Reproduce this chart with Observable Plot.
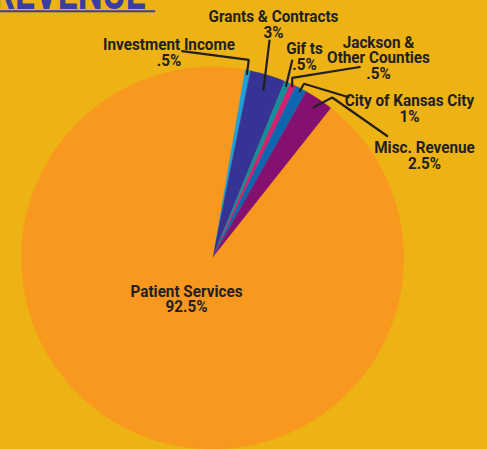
<!DOCTYPE html>
<html><head><meta charset="utf-8">
<script src="https://cdn.jsdelivr.net/npm/d3@7"></script>
<script src="https://cdn.jsdelivr.net/npm/@observablehq/plot@0.6"></script>
<style>
html,body{margin:0;padding:0;background:#EDB213;overflow:hidden;}
#chart svg{display:block;}
</style></head><body><div id="chart"></div>
<script>
// ---- data ----
const keys = ["investment","grants","gifts","jackson","city","misc","patient"];
const categories = ["Investment Income","Grants & Contracts","Gif ts","Jackson &\nOther Counties","City of Kansas City","Misc. Revenue","Patient Services"];
const values = [0.5, 3, 0.5, 0.5, 1, 2.5, 92.5];
const percentLabels = [".5%","3%",".5%",".5%","1%","2.5%","92.5%"];
const colors = ["#1BA0DB","#353394","#11909A","#D51F70","#0C66B0","#841170","#F8981E"];
const title = "REVENUE";

// ---- layout ----
const W = 487, H = 449, CX = 212, CY = 257.5, R = 191, START_DEG = 9.7;
const labelX = [168.5, 273, 304, 378, 409, 424, 186];
const labelY = [65, 37, 69, 78, 121, 168, 311.5];       // baseline of last line
const leaderDepth = [0.98, 0.92, 0.98, 0.99, 0.985, 0.95, null];
const leaderElbows = [
  [[248.3, 59.3], [181.7, 50.7]],
  [[269, 40]],
  [[291.7, 60]],
  [[291.7, 77.3], [359.3, 66.5]],
  [[303.5, 83.3], [348.3, 96.8]],
  [[331.7, 97], [386.7, 135.5]],
  null
];

const toRad = d => d * Math.PI / 180;
const polar = (a, r) => [CX + r * Math.sin(a), CY - r * Math.cos(a)];

const arcs = d3.pie().sort(null).value(d => d)
  .startAngle(toRad(START_DEG)).endAngle(toRad(START_DEG) + 2 * Math.PI)(values);

// slice polygons
const slicePts = [];
arcs.forEach((a, i) => {
  const n = Math.max(2, Math.ceil((a.endAngle - a.startAngle) / toRad(0.4)));
  slicePts.push({key: keys[i], x: CX, y: CY});
  for (let k = 0; k <= n; k++) {
    const t = a.startAngle + (a.endAngle - a.startAngle) * k / n;
    const [x, y] = polar(t, R);
    slicePts.push({key: keys[i], x, y});
  }
});

// leader lines
const leaderPts = [];
arcs.forEach((a, i) => {
  if (!leaderElbows[i]) return;
  const mid = (a.startAngle + a.endAngle) / 2;
  const [x0, y0] = polar(mid, leaderDepth[i] * R);
  leaderPts.push({key: keys[i], x: x0, y: y0});
  leaderElbows[i].forEach(([x, y]) => leaderPts.push({key: keys[i], x, y}));
});

const labels = keys.map((k, i) => ({key: k, x: labelX[i], y: labelY[i], text: categories[i] + "\n" + percentLabels[i]}));

const plot = Plot.plot({
  width: W, height: H,
  margin: 0,
  x: {domain: [0, W], range: [0, W], axis: null},
  y: {domain: [0, H], range: [0, H], axis: null},
  color: {domain: keys, range: colors},
  style: {background: "transparent", overflow: "visible"},
  marks: [
    Plot.line(slicePts, {x: "x", y: "y", z: "key", fill: "key", stroke: "key", strokeWidth: 0.4, curve: "linear-closed"}),
    Plot.line(leaderPts, {x: "x", y: "y", z: "key", stroke: "#231F20", strokeWidth: 2.2, strokeLinejoin: "miter"}),
    Plot.text(labels, {x: "x", y: "y", text: "text", textAnchor: "middle", lineAnchor: "bottom",
      fontSize: 16.5, fontFamily: "Roboto, 'Liberation Sans', sans-serif", fontWeight: 700,
      fill: "#231F20", lineHeight: 0.93}),
    Plot.text([title], {x: () => -8, y: () => 8, text: d => d, textAnchor: "start", lineAnchor: "bottom",
      fontSize: 48, fontFamily: "Roboto, 'Liberation Sans', sans-serif", fontWeight: 700,
      fill: "#3B3EA0"}),
    Plot.line([{x: 0, y: 10.8}, {x: 154, y: 10.8}], {x: "x", y: "y", stroke: "#3B3EA0", strokeWidth: 2})
  ]
});
document.getElementById("chart").appendChild(plot);

// condense text horizontally to mimic the condensed typeface
const textGroups = plot.querySelectorAll('g[aria-label="text"]');
function condense(g, targetWidth, refIndex) {
  if (!g) return;
  const texts = g.querySelectorAll("text");
  const ref = texts[refIndex];
  const w = ref.getBBox().width;
  const s = targetWidth / w;
  texts.forEach(t => {
    const tr = t.getAttribute("transform");
    if (tr) {
      t.setAttribute("transform", tr + ` scale(${s},1)`);
    } else {
      const x = +t.getAttribute("x") || 0, y = +t.getAttribute("y") || 0;
      t.setAttribute("transform", `translate(${x},${y}) scale(${s},1)`);
      t.removeAttribute("x"); t.removeAttribute("y");
      t.querySelectorAll("tspan").forEach(ts => { if (ts.hasAttribute("x")) ts.setAttribute("x", 0); });
    }
  });
}
condense(textGroups[0], 130, 1);
condense(textGroups[1], 153, 0);
</script></body></html>
